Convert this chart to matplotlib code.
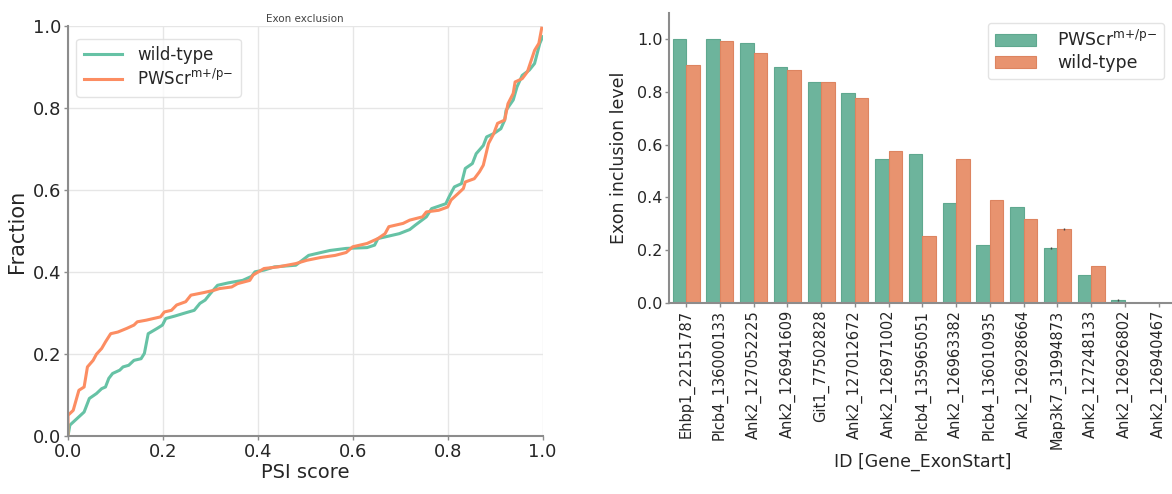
import matplotlib
matplotlib.use('Agg')
import matplotlib.pyplot as plt
import numpy as np

# cumulative PSI distributions (exon exclusion events)
wt_psi = [0.0, 0.004, 0.019, 0.034, 0.045, 0.06, 0.071, 0.079, 0.086, 0.094, 0.109, 0.116,
          0.128, 0.139, 0.154, 0.161, 0.169, 0.188, 0.199, 0.206, 0.225, 0.248, 0.266, 0.278,
          0.289, 0.3, 0.315, 0.338, 0.368, 0.387, 0.394, 0.413, 0.435, 0.48, 0.507, 0.533,
          0.552, 0.586, 0.63, 0.646, 0.653, 0.698, 0.72, 0.732, 0.755, 0.766, 0.796, 0.803,
          0.814, 0.829, 0.837, 0.852, 0.86, 0.875, 0.882, 0.897, 0.912, 0.92, 0.923, 0.938,
          0.946, 0.957, 0.972, 0.983, 0.994, 1.0]
wt_frac = [0.0, 0.027, 0.043, 0.059, 0.092, 0.104, 0.116, 0.12, 0.141, 0.153, 0.161, 0.169,
           0.173, 0.185, 0.189, 0.202, 0.25, 0.263, 0.271, 0.287, 0.293, 0.301, 0.307, 0.324,
           0.332, 0.348, 0.368, 0.374, 0.38, 0.39, 0.401, 0.405, 0.413, 0.417, 0.441, 0.448,
           0.453, 0.458, 0.46, 0.466, 0.482, 0.494, 0.504, 0.515, 0.535, 0.555, 0.567, 0.584,
           0.608, 0.616, 0.653, 0.665, 0.689, 0.709, 0.73, 0.738, 0.75, 0.771, 0.795, 0.82,
           0.852, 0.88, 0.893, 0.909, 0.958, 0.974]

mut_psi = [0.0, 0.0, 0.011, 0.023, 0.034, 0.041, 0.053, 0.06, 0.071, 0.079, 0.09, 0.105,
           0.124, 0.139, 0.146, 0.165, 0.195, 0.203, 0.218, 0.229, 0.248, 0.259, 0.285, 0.308,
           0.319, 0.345, 0.357, 0.383, 0.39, 0.413, 0.443, 0.48, 0.503, 0.533, 0.563, 0.586,
           0.6, 0.63, 0.653, 0.668, 0.676, 0.706, 0.72, 0.747, 0.755, 0.781, 0.8, 0.807,
           0.822, 0.833, 0.837, 0.856, 0.867, 0.875, 0.886, 0.897, 0.905, 0.92, 0.927, 0.938,
           0.942, 0.957, 0.968, 0.983, 0.992, 0.998]
mut_frac = [0.0, 0.051, 0.063, 0.112, 0.12, 0.169, 0.185, 0.2, 0.214, 0.23, 0.25, 0.254,
            0.263, 0.271, 0.279, 0.283, 0.291, 0.303, 0.307, 0.32, 0.328, 0.344, 0.35, 0.356,
            0.36, 0.364, 0.372, 0.38, 0.393, 0.409, 0.413, 0.421, 0.429, 0.436, 0.441, 0.448,
            0.462, 0.47, 0.482, 0.494, 0.511, 0.519, 0.527, 0.535, 0.547, 0.551, 0.559, 0.576,
            0.592, 0.604, 0.62, 0.628, 0.645, 0.661, 0.714, 0.738, 0.763, 0.771, 0.811, 0.836,
            0.864, 0.872, 0.889, 0.941, 0.958, 0.995]

# per-exon inclusion levels
exon_ids = ['Ehbp1_22151787', 'Plcb4_136000133', 'Ank2_127052225', 'Ank2_126941609',
            'Git1_77502828', 'Ank2_127012672', 'Ank2_126971002', 'Plcb4_135965051',
            'Ank2_126963382', 'Plcb4_136010935', 'Ank2_126928664', 'Map3k7_31994873',
            'Ank2_127248133', 'Ank2_126926802', 'Ank2_126940467']
mut_incl = [1.0, 1.0, 0.984, 0.894, 0.838, 0.797, 0.545, 0.564, 0.379, 0.221, 0.362,
            0.208, 0.104, 0.011, 0.0]
wt_incl = [0.904, 0.995, 0.949, 0.883, 0.838, 0.777, 0.575, 0.253, 0.545, 0.389, 0.317,
           0.279, 0.140, 0.0, 0.0]
mut_err = [0, 0, 0, 0, 0, 0, 0, 0, 0, 0, 0, 0.003, 0, 0.004, 0]
wt_err = [0, 0, 0, 0, 0, 0, 0, 0, 0, 0, 0, 0.004, 0, 0, 0]

GREEN = '#66c2a5'
ORANGE = '#fc8d62'
BAR_GREEN = '#6db49c'
BAR_ORANGE = '#e8936f'
SPINE = '#8c8c8c'
TXT = '#262626'

plt.rcParams['font.family'] = 'DejaVu Sans'
plt.rcParams['text.color'] = TXT
plt.rcParams['axes.labelcolor'] = TXT
plt.rcParams['xtick.color'] = TXT
plt.rcParams['ytick.color'] = TXT
plt.rcParams['mathtext.default'] = 'regular'

fig = plt.figure(figsize=(11.72, 4.94), dpi=100)
ax0 = fig.add_axes([0.058, 0.117, 0.405, 0.830])
ax1 = fig.add_axes([0.571, 0.387, 0.432, 0.587])

mut_label = r'PWScr$^{m{+}/p{-}}$'

# left: cumulative distributions
ax0.plot(wt_psi, wt_frac, color=GREEN, lw=2.2, label='wild-type')
ax0.plot(mut_psi, mut_frac, color=ORANGE, lw=2.2, label=mut_label)
ax0.set_xlim(0, 1)
ax0.set_ylim(0, 1)
ax0.set_xticks(np.arange(0, 1.01, 0.2))
ax0.set_yticks(np.arange(0, 1.01, 0.2))
ax0.grid(True, color='#e6e6e6', lw=1)
ax0.set_axisbelow(True)
ax0.tick_params(labelsize=13, length=3, width=1, color=SPINE, pad=2)
ax0.set_xlabel('PSI score', fontsize=14, labelpad=1)
ax0.set_ylabel('Fraction', fontsize=15, labelpad=4)
ax0.set_title('Exon exclusion', fontsize=7.5, color='#444444', pad=3)
for s in ['top', 'right']:
    ax0.spines[s].set_visible(False)
for s in ['left', 'bottom']:
    ax0.spines[s].set_color(SPINE)
    ax0.spines[s].set_linewidth(1.5)
leg0 = ax0.legend(loc='upper left', fontsize=12, frameon=True, handlelength=2.3,
                  handletextpad=0.9, borderpad=0.45, labelspacing=0.3,
                  borderaxespad=0.5, bbox_to_anchor=(0.0, 0.99))
leg0.get_frame().set_edgecolor('#dddddd')

# right: grouped bars
x = np.arange(len(exon_ids))
w = 0.4
ax1.bar(x - w / 2, mut_incl, w, color=BAR_GREEN, edgecolor='#5fa88f', lw=0.8,
        label=mut_label)
ax1.bar(x + w / 2, wt_incl, w, color=BAR_ORANGE, edgecolor='#dd8460', lw=0.8,
        label='wild-type')
ax1.errorbar(x - w / 2, mut_incl, yerr=mut_err, fmt='none', ecolor='#444444', lw=1)
ax1.errorbar(x + w / 2, wt_incl, yerr=wt_err, fmt='none', ecolor='#444444', lw=1)
ax1.set_xlim(-0.5, len(exon_ids) - 0.5)
ax1.set_ylim(0, 1.1)
ax1.set_yticks(np.arange(0, 1.01, 0.2))
ax1.set_xticks(x)
ax1.set_xticklabels(exon_ids, rotation=90, fontsize=10.5)
ax1.tick_params(axis='y', labelsize=11.5)
ax1.tick_params(length=3, width=1, color=SPINE, pad=2)
ax1.set_xlabel('ID [Gene_ExonStart]', fontsize=12.5, labelpad=3)
ax1.set_ylabel('Exon inclusion level', fontsize=12.5, labelpad=6)
for s in ['top', 'right']:
    ax1.spines[s].set_visible(False)
for s in ['left', 'bottom']:
    ax1.spines[s].set_color(SPINE)
    ax1.spines[s].set_linewidth(1.5)
leg1 = ax1.legend(loc='upper right', fontsize=12.5, frameon=True, handlelength=2.4,
                  handletextpad=1.2, borderpad=0.4, labelspacing=0.25,
                  bbox_to_anchor=(0.995, 0.995))
leg1.get_frame().set_edgecolor('#dddddd')

fig.savefig('out.png', dpi=100)
